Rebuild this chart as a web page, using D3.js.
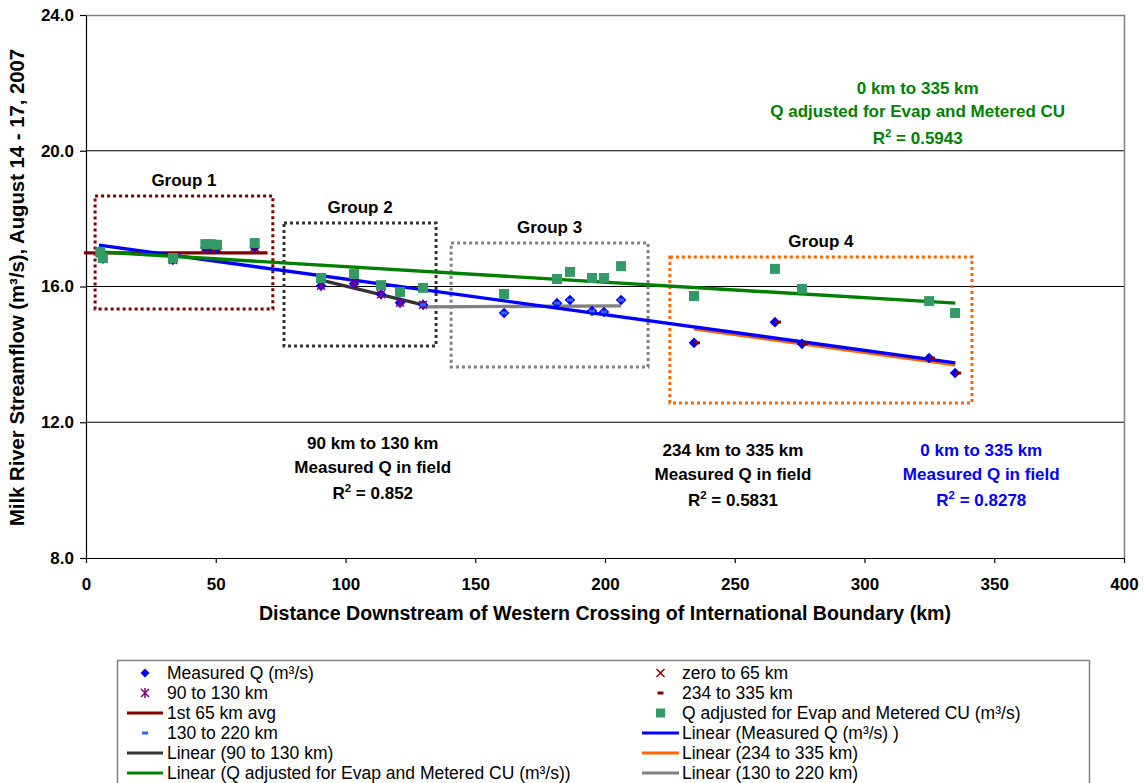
<!DOCTYPE html>
<html>
<head>
<meta charset="utf-8">
<script src="https://cdn.jsdelivr.net/npm/d3@7"></script>
<style>
  html, body { margin: 0; padding: 0; background: #fff; }
  svg { display: block; font-family: "Liberation Sans", Arial, sans-serif; }
</style>
</head>
<body>
<svg id="chart" width="1144" height="783"></svg>
<script>
// ---------------- DATA ----------------
const stationKm  = [5.5, 6.5, 33.5, 46, 48, 50.5, 65, 90.6, 103.3, 113.7, 121, 129.9, 161.1, 181.5, 186.5, 195, 199.6, 206.2, 234.3, 265.5, 275.9, 324.9, 334.9];
const measuredQ  = [16.98, 16.82, 16.78, 17.14, 17.14, 17.12, 17.15, 16.02, 16.08, 15.77, 15.52, 15.46, 15.22, 15.51, 15.60, 15.28, 15.25, 15.60, 14.34, 14.95, 14.31, 13.89, 13.45];
const adjustedQ  = [17.02, 16.84, 16.84, 17.25, 17.25, 17.23, 17.28, 16.25, 16.37, 16.04, 15.84, 15.96, 15.78, 16.22, 16.43, 16.25, 16.25, 16.60, 15.72, 16.52, 15.93, 15.57, 15.22];

// km ranges for the marker sub-series
const zeroTo65Range   = [0, 65];
const r90to130Range   = [90, 130];
const r130to220Range  = [129, 220];
const r234to335Range  = [234, 335];

// trend lines [km, Q]
const avg65Line       = [[-0.8, 16.99], [70, 16.99]];
const linMeasured     = [[5, 17.22], [335, 13.75]];
const linAdjusted     = [[5, 17.02], [335, 15.51]];
const lin90to130      = [[90.6, 16.19], [129.9, 15.46]];
const lin130to220     = [[129.9, 15.40], [206.2, 15.43]];
const lin234to335     = [[234.3, 14.75], [334.9, 13.69]];

// group boxes [kmMin, kmMax, qMin, qMax]
const groupNames = ["Group 1", "Group 2", "Group 3", "Group 4"];
const groupBoxes = [[3.5, 72, 15.34, 18.67], [76.3, 134.9, 14.25, 17.87], [140.7, 216.6, 13.63, 17.28], [225, 341.4, 12.57, 16.87]];

const yTicks = [8, 12, 16, 20, 24];
const xTicks = [0, 50, 100, 150, 200, 250, 300, 350, 400];

// annotations [km, Q, lines]
const annGreen = [320.5, 21.68, ["0 km to 335 km", "Q adjusted for Evap and Metered CU", "R2 = 0.5943"]];
const ann90    = [110.5, 11.2, ["90 km to 130 km", "Measured Q in field", "R2 = 0.852"]];
const ann234   = [249.3, 11.0, ["234 km to 335 km", "Measured Q in field", "R2 = 0.5831"]];
const annBlue  = [345, 11.0, ["0 km to 335 km", "Measured Q in field", "R2 = 0.8278"]];

// ---------------- CHART ----------------
const svg = d3.select("#chart");
const L = 86, R = 1124, T = 15, B = 558;
const x = d3.scaleLinear().domain([0, 400]).range([L, R]);
const y = d3.scaleLinear().domain([8, 24]).range([B, T]);

const C = {
  blue: "#0000FF", green: "#008000", sq: "#339966", brown: "#800000",
  dgray: "#333333", gray: "#808080", orange: "#FF6600", purple: "#800080", lblue: "#3366FF"
};

// gridlines
svg.append("g").selectAll("line").data([12, 16, 20]).join("line")
  .attr("x1", L).attr("x2", R).attr("y1", d => y(d)).attr("y2", d => y(d))
  .attr("stroke", "#000").attr("stroke-width", 1);
// top and right border
svg.append("path").attr("d", `M${L},${T + 0.5}H${R + 0.5}V${B}`)
  .attr("fill", "none").attr("stroke", "#808080").attr("stroke-width", 1.5);

// axes
const yAxis = svg.append("g").attr("transform", `translate(${L},0)`)
  .call(d3.axisLeft(y).tickValues(yTicks).tickFormat(d3.format(".1f")).tickSize(6).tickSizeOuter(0).tickPadding(6));
const xAxis = svg.append("g").attr("transform", `translate(0,${B})`)
  .call(d3.axisBottom(x).tickValues(xTicks).tickFormat(d3.format("d")).tickSize(5).tickSizeOuter(0).tickPadding(15));
[yAxis, xAxis].forEach(a => {
  a.selectAll("path,line").attr("stroke", "#000").attr("stroke-width", 1.2);
  a.selectAll("text").attr("font-size", 17).attr("font-weight", "bold").attr("fill", "#000")
    .attr("font-family", "Liberation Sans, Arial, sans-serif");
});

// axis titles
svg.append("text").attr("transform", `translate(24,${(T + B) / 2 + 1}) rotate(-90)`)
  .attr("text-anchor", "middle").attr("font-size", 20.3).attr("font-weight", "bold")
  .text("Milk River Streamflow (m³/s), August 14 - 17, 2007");
svg.append("text").attr("x", 605).attr("y", 620)
  .attr("text-anchor", "middle").attr("font-size", 19.6).attr("font-weight", "bold")
  .text("Distance Downstream of Western Crossing of International Boundary (km)");

// group boxes
const boxColors = [C.brown, "#333333", "#808080", C.orange];
const boxes = svg.append("g");
groupBoxes.forEach((b, i) => {
  boxes.append("rect")
    .attr("x", x(b[0])).attr("y", y(b[3]))
    .attr("width", x(b[1]) - x(b[0])).attr("height", y(b[2]) - y(b[3]))
    .attr("fill", "none").attr("stroke", boxColors[i]).attr("stroke-width", 3)
    .attr("stroke-dasharray", "3,3");
  boxes.append("text").attr("x", (x(b[0]) + x(b[1])) / 2).attr("y", y(b[3]) - 10)
    .attr("text-anchor", "middle").attr("font-size", 17).attr("font-weight", "bold")
    .text(groupNames[i]);
});

// trend lines
const line = d3.line().x(d => x(d[0])).y(d => y(d[1]));
const lines = [
  [avg65Line, C.brown], [lin90to130, C.dgray], [lin130to220, C.gray],
  [lin234to335, C.orange], [linMeasured, C.blue], [linAdjusted, C.green]
];
lines.forEach(([pts, col]) => {
  svg.append("path").attr("d", line(pts)).attr("fill", "none")
    .attr("stroke", col).attr("stroke-width", 3.4);
});

// markers
const pts = stationKm.map((k, i) => ({ k, m: measuredQ[i], a: adjustedQ[i] }));
const inR = (r) => pts.filter(p => p.k >= r[0] && p.k <= r[1]);

// measured diamonds
svg.append("g").selectAll("path").data(pts).join("path")
  .attr("d", d3.symbol().type(d3.symbolSquare).size(56))
  .attr("transform", d => `translate(${x(d.k)},${y(d.m)}) rotate(45)`)
  .attr("fill", C.blue);
// zero to 65: x markers
svg.append("g").selectAll("path").data(inR(zeroTo65Range)).join("path")
  .attr("d", "M-4,-4L4,4M-4,4L4,-4")
  .attr("transform", d => `translate(${x(d.k)},${y(d.m)})`)
  .attr("stroke", C.brown).attr("stroke-width", 1.5);
// 90 to 130: asterisks
svg.append("g").selectAll("path").data(inR(r90to130Range)).join("path")
  .attr("d", "M-4,-4L4,4M-4,4L4,-4M0,-5L0,5")
  .attr("transform", d => `translate(${x(d.k)},${y(d.m)})`)
  .attr("stroke", C.purple).attr("stroke-width", 1.5);
// 130 to 220: light blue dashes
svg.append("g").selectAll("rect").data(inR(r130to220Range)).join("rect")
  .attr("x", d => x(d.k) - 3).attr("y", d => y(d.m) - 1.5).attr("width", 6).attr("height", 3)
  .attr("fill", C.lblue);
// 234 to 335: dark red dashes
svg.append("g").selectAll("rect").data(inR(r234to335Range)).join("rect")
  .attr("x", d => x(d.k)).attr("y", d => y(d.m) - 1.5).attr("width", 6).attr("height", 3)
  .attr("fill", C.brown);
// adjusted squares
svg.append("g").selectAll("rect").data(pts).join("rect")
  .attr("x", d => x(d.k) - 5).attr("y", d => y(d.a) - 5).attr("width", 10).attr("height", 10)
  .attr("fill", C.sq);

// annotations
function annotate(a, color) {
  const t = svg.append("text").attr("text-anchor", "middle").attr("font-size", 17)
    .attr("font-weight", "bold").attr("fill", color);
  a[2].forEach((s, i) => {
    const ty = y(a[1]) + i * 23.5 + (i === 2 ? 3 : 0);
    if (s.startsWith("R2")) {
      const ts = t.append("tspan").attr("x", x(a[0])).attr("y", ty);
      ts.text("R");
      t.append("tspan").attr("dy", -7).attr("font-size", 11.5).text("2");
      t.append("tspan").attr("dy", 7).text(s.slice(2));
    } else {
      t.append("tspan").attr("x", x(a[0])).attr("y", ty).text(s);
    }
  });
}
annotate(annGreen, C.green);
annotate(ann90, "#000");
annotate(ann234, "#000");
annotate(annBlue, C.blue);

// ---------------- LEGEND ----------------
const leg = svg.append("g");
leg.append("rect").attr("x", 117.5).attr("y", 660.5).attr("width", 972).attr("height", 160)
  .attr("fill", "#fff").attr("stroke", "#808080").attr("stroke-width", 1.5);
const legLeft = [
  ["diamond", C.blue, "Measured Q (m³/s)"],
  ["asterisk", C.purple, "90 to 130 km"],
  ["line", C.brown, "1st 65 km avg"],
  ["dash", C.lblue, "130 to 220 km"],
  ["line", C.dgray, "Linear (90 to 130 km)"],
  ["line", C.green, "Linear (Q adjusted for Evap and Metered CU (m³/s))"]
];
const legRight = [
  ["x", C.brown, "zero to 65 km"],
  ["dash", C.brown, "234 to 335 km"],
  ["square", C.sq, "Q adjusted for Evap and Metered CU (m³/s)"],
  ["line", C.blue, "Linear (Measured Q (m³/s) )"],
  ["line", C.orange, "Linear (234 to 335 km)"],
  ["line", C.gray, "Linear (130 to 220 km)"]
];
function legendCol(items, x0, x1, tx) {
  items.forEach(([type, col, label], i) => {
    const cy = 673 + i * 20;
    const cx = (x0 + x1) / 2;
    const g = leg.append("g");
    if (type === "line") g.append("line").attr("x1", x0).attr("x2", x1).attr("y1", cy).attr("y2", cy).attr("stroke", col).attr("stroke-width", 3);
    if (type === "diamond") g.append("path").attr("d", d3.symbol().type(d3.symbolSquare).size(40)).attr("transform", `translate(${cx},${cy}) rotate(45)`).attr("fill", col);
    if (type === "square") g.append("rect").attr("x", cx - 4.5).attr("y", cy - 4.5).attr("width", 9).attr("height", 9).attr("fill", col);
    if (type === "dash") g.append("rect").attr("x", cx - 3).attr("y", cy - 1.5).attr("width", 6).attr("height", 3).attr("fill", col);
    if (type === "x") g.append("path").attr("d", "M-4,-4L4,4M-4,4L4,-4").attr("transform", `translate(${cx},${cy})`).attr("stroke", col).attr("stroke-width", 1.5);
    if (type === "asterisk") g.append("path").attr("d", "M-4,-4L4,4M-4,4L4,-4M0,-5L0,5").attr("transform", `translate(${cx},${cy})`).attr("stroke", col).attr("stroke-width", 1.5);
    g.append("text").attr("x", tx).attr("y", cy + 6).attr("font-size", 17.5).attr("fill", "#000").text(label);
  });
}
legendCol(legLeft, 127, 163, 167);
legendCol(legRight, 642, 679, 682);
</script>
</body>
</html>
